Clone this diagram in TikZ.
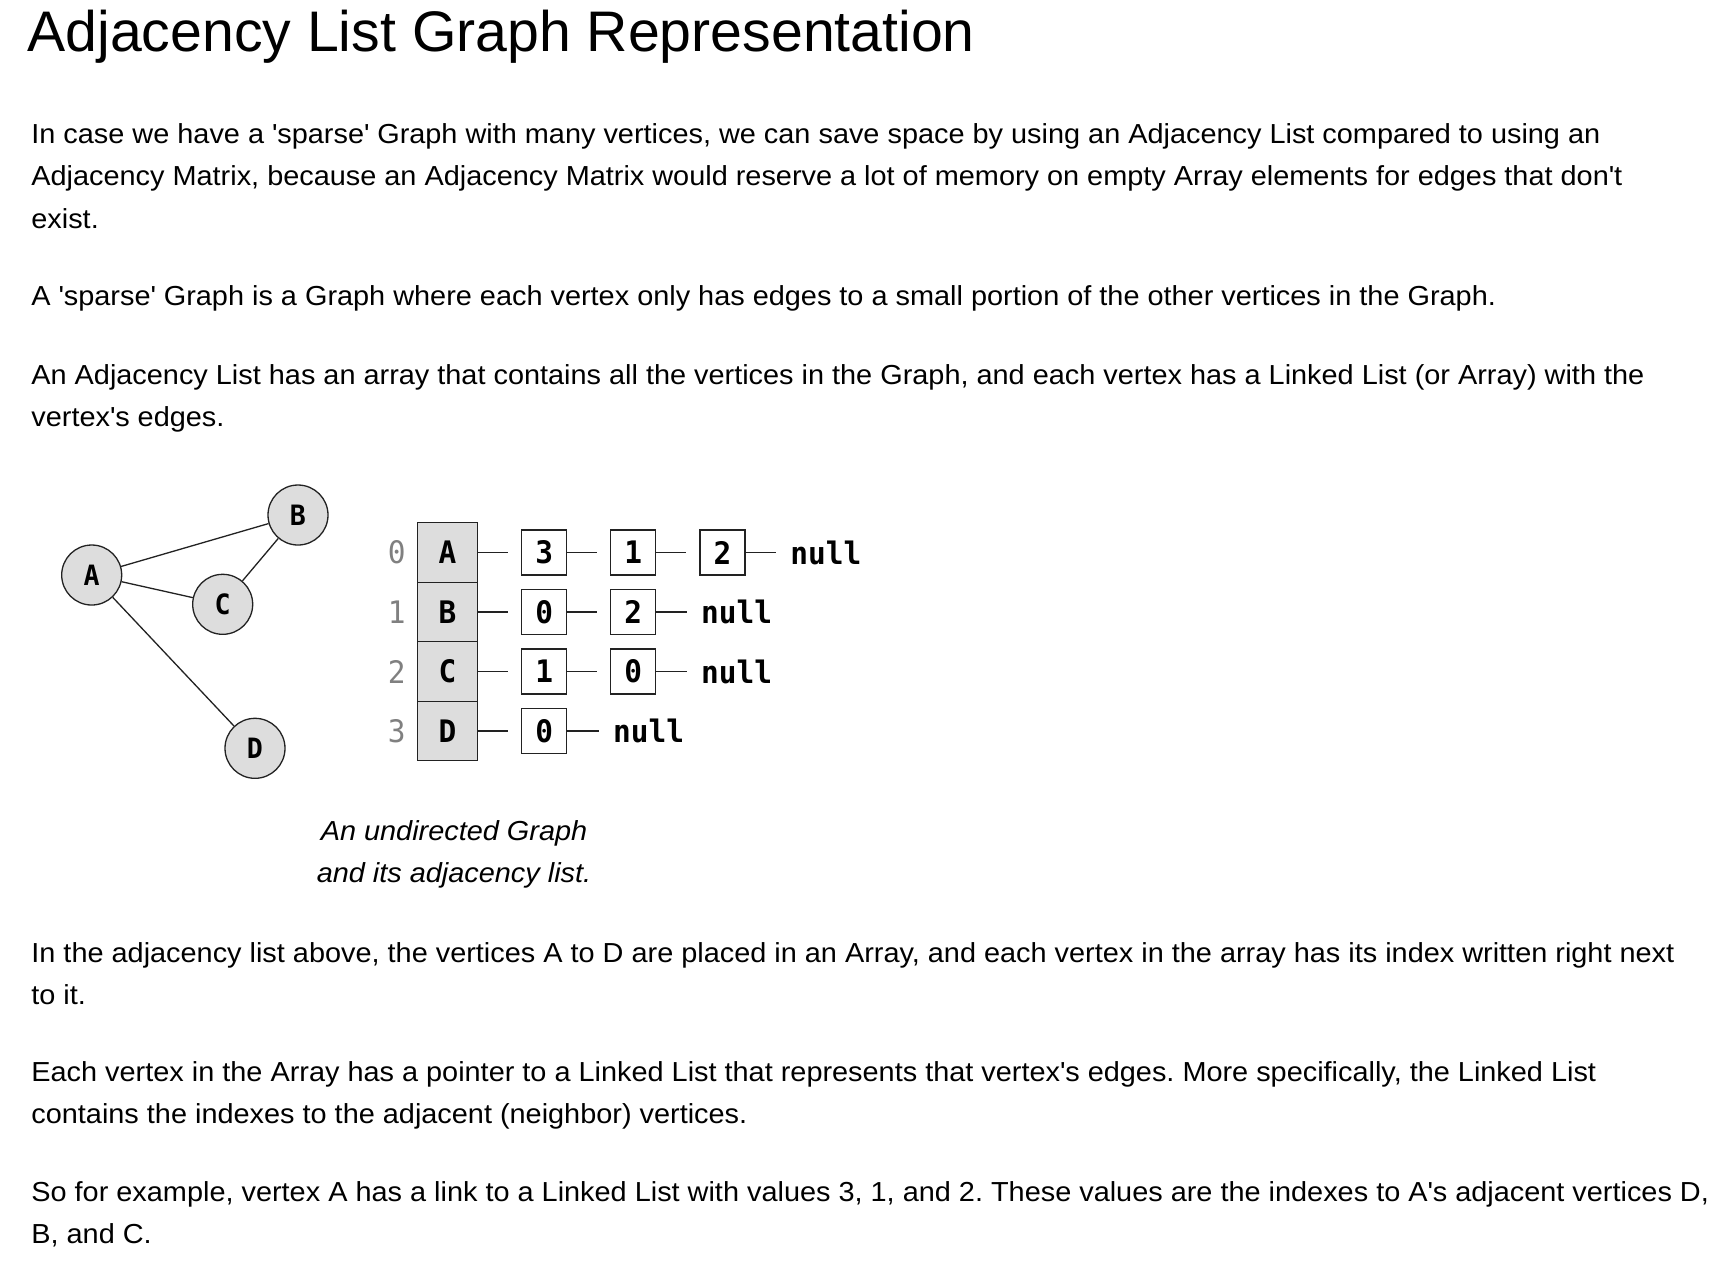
\documentclass[tikz,border=0pt]{standalone}
\usepackage{fontspec}
\setmainfont{Liberation Sans}[FakeStretch=1.05]
\newfontfamily\titlefont{Liberation Sans}
\newfontfamily\codefont{DejaVu Sans Mono}[FakeStretch=0.95]
\newcommand\stq{\textquotesingle}
\definecolor{cellgray}{HTML}{DDDDDD}
\definecolor{idxgray}{HTML}{808080}
\definecolor{ink}{HTML}{222222}
\frenchspacing
\begin{document}
\begin{tikzpicture}[x=0.5pt,y=-0.5pt,
  body/.style={anchor=base west, inner sep=0pt, font=\fontsize{13.75}{16.5}\selectfont},
  caption/.style={anchor=base, inner sep=0pt, font=\itshape\fontsize{13.75}{16.5}\selectfont},
  vertex/.style={circle, draw=ink, line width=0.65pt, fill=cellgray, minimum size=30pt, inner sep=0pt,
    font=\codefont\bfseries\fontsize{14}{14}\selectfont},
  edge/.style={line width=0.65pt, draw=ink},
  cell/.style={draw=ink, line width=0.65pt, fill=cellgray, minimum width=29.8pt, minimum height=29.75pt,
    inner sep=0pt, font=\codefont\bfseries\fontsize{15.5}{15.5}\selectfont},
  item/.style={draw=ink, line width=0.65pt, fill=white, minimum size=22.5pt, inner sep=0pt,
    font=\codefont\bfseries\fontsize{15.5}{15.5}\selectfont},
  idx/.style={inner sep=0pt, text=idxgray, font=\codefont\fontsize{15.5}{15.5}\selectfont},
  nullval/.style={anchor=base west, inner sep=0pt, font=\codefont\bfseries\fontsize{15.5}{15.5}\selectfont},
  link/.style={line width=0.65pt, draw=ink, shorten >=6.5pt},
  tail/.style={line width=0.65pt, draw=ink, shorten >=7pt}]

\fill[white] (0,0) rectangle (1716,1266);
\useasboundingbox (0,0) rectangle (1716,1266);

% heading
\node[anchor=base west, inner sep=0pt, font=\titlefont\fontsize{28.6}{34}\selectfont] (title) at (27,51.5)
  {Adjacency List Graph Representation};

% introductory paragraphs
\node[body] (p1a) at (31,143.3) {In case we have a \stq sparse\stq{} Graph with many vertices, we can save space by using an Adjacency List compared to using an};
\node[body] (p1b) at (31,185.8) {Adjacency Matrix, because an Adjacency Matrix would reserve a lot of memory on empty Array elements for edges that don\stq t};
\node[body] (p1c) at (31,228.3) {exist.};
\node[body] (p2a) at (31,305.5) {A \stq sparse\stq{} Graph is a Graph where each vertex only has edges to a small portion of the other vertices in the Graph.};
\node[body] (p3a) at (31,384.3) {An Adjacency List has an array that contains all the vertices in the Graph, and each vertex has a Linked List (or Array) with the};
\node[body] (p3b) at (31,426.8) {vertex\stq s edges.};

% the graph
\node[vertex] (A) at (91.7,575) {A};
\node[vertex] (B) at (298,515) {B};
\node[vertex] (C) at (222.7,604.3) {C};
\node[vertex] (D) at (255,748.3) {D};
\draw[edge] (A) -- (B);
\draw[edge] (A) -- (C);
\draw[edge] (C) -- (B);
\draw[edge] (A) -- (D);

% vertex array with indexes
\node[cell] (vA) at (447.5,552.5) {A};
\node[cell] (vB) at (447.5,612) {B};
\node[cell] (vC) at (447.5,671.5) {C};
\node[cell] (vD) at (447.5,731) {D};
\node[idx] (i0) at (396.7,552.5) {0};
\node[idx] (i1) at (396.7,612) {1};
\node[idx] (i2) at (396.7,671.5) {2};
\node[idx] (i3) at (396.7,731) {3};

% linked lists
\node[item] (a1) at (544.2,552.5) {3};
\node[item] (a2) at (633.2,552.5) {1};
\node[item] (a3) at (722.5,552.5) {2};
\node[nullval] (an) at (790,564.3) {null};
\draw[link] (vA.east) -- (a1.west);
\draw[link] (a1.east) -- (a2.west);
\draw[link] (a2.east) -- (a3.west);
\draw[tail] (a3.east) -- (a3.east -| an.west);

\node[item] (b1) at (544.2,612) {0};
\node[item] (b2) at (633.2,612) {2};
\node[nullval] (bn) at (700.7,623.8) {null};
\draw[link] (vB.east) -- (b1.west);
\draw[link] (b1.east) -- (b2.west);
\draw[tail] (b2.east) -- (b2.east -| bn.west);

\node[item] (c1) at (544.2,671.5) {1};
\node[item] (c2) at (633.2,671.5) {0};
\node[nullval] (cn) at (700.7,683.3) {null};
\draw[link] (vC.east) -- (c1.west);
\draw[link] (c1.east) -- (c2.west);
\draw[tail] (c2.east) -- (c2.east -| cn.west);

\node[item] (d1) at (544.2,731) {0};
\node[nullval] (dn) at (612.7,742.8) {null};
\draw[link] (vD.east) -- (d1.west);
\draw[tail] (d1.east) -- (d1.east -| dn.west);

% caption
\node[caption] (cap1) at (454,840) {An undirected Graph};
\node[caption] (cap2) at (454,882) {and its adjacency list.};

% explanation
\node[body] (p4a) at (31,962) {In the adjacency list above, the vertices A to D are placed in an Array, and each vertex in the array has its index written right next};
\node[body] (p4b) at (31,1004.5) {to it.};
\node[body] (p5a) at (31,1081) {Each vertex in the Array has a pointer to a Linked List that represents that vertex\stq s edges. More specifically, the Linked List};
\node[body] (p5b) at (31,1123.5) {contains the indexes to the adjacent (neighbor) vertices.};
\node[body] (p6a) at (31,1201) {So for example, vertex A has a link to a Linked List with values 3, 1, and 2. These values are the indexes to A\stq s adjacent vertices D,};
\node[body] (p6b) at (31,1243) {B, and C.};
\end{tikzpicture}
\end{document}
